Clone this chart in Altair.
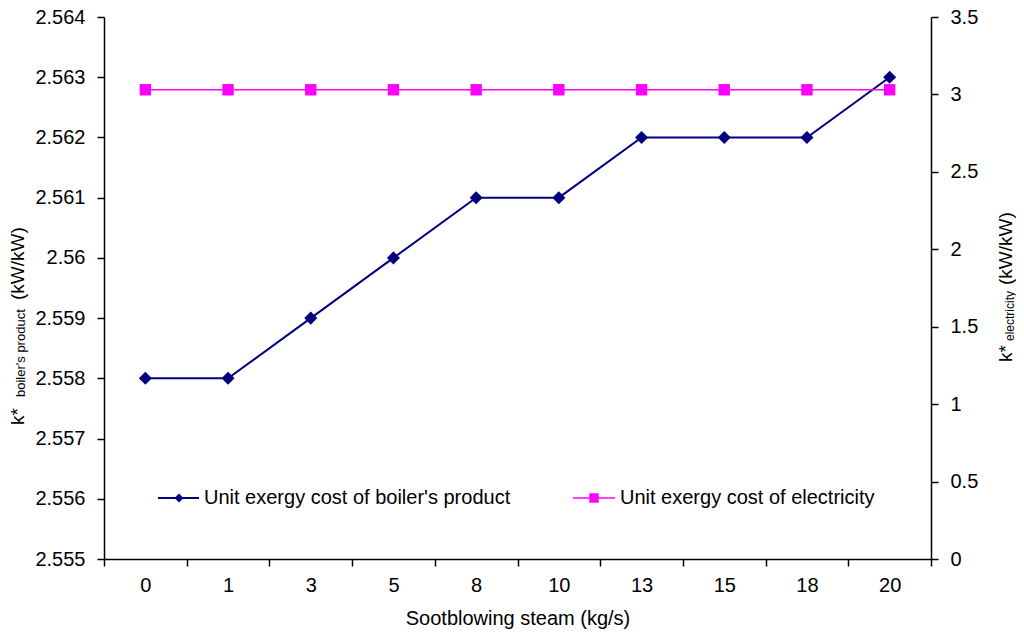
import altair as alt
import pandas as pd

# ---- data ----
steam = [0, 1, 3, 5, 8, 10, 13, 15, 18, 20]
boiler = [2.558, 2.558, 2.559, 2.560, 2.561, 2.561, 2.562, 2.562, 2.562, 2.563]
electricity = [3.03] * 10
left_ticks = [2.555, 2.556, 2.557, 2.558, 2.559, 2.560, 2.561, 2.562, 2.563, 2.564]
right_ticks = [0, 0.5, 1, 1.5, 2, 2.5, 3, 3.5]

series_names = ["Unit exergy cost of boiler's product", "Unit exergy cost of electricity"]

FONT = "Liberation Sans"
NAVY = "#000080"
MAGENTA = "#FF00FF"
TOP = 9
W, H = 827, 551 - TOP - 8 + 8 - 0  # plot bottom kept at y=559 on the page
H = 559 - 8 - TOP
FS = 20

df = pd.DataFrame({"steam": steam, "boiler": boiler, "elec": electricity})

x_enc = alt.X(
    "steam:O",
    sort=steam,
    scale=alt.Scale(type="band", paddingInner=0, paddingOuter=0),
    axis=alt.Axis(
        title="Sootblowing steam (kg/s)",
        labelAngle=0,
        tickBand="extent",
        tickSize=7,
        labelPadding=9,
        titlePadding=13,
        labelFontSize=FS,
        titleFontSize=FS,
        titleFontWeight="normal",
        grid=False,
    ),
)

base = alt.Chart(df)

blue = base.mark_line(
    color=NAVY,
    strokeWidth=2,
    point=alt.OverlayMarkDef(shape="diamond", size=170, filled=True, color=NAVY, opacity=1),
).encode(
    x=x_enc,
    y=alt.Y(
        "boiler:Q",
        scale=alt.Scale(domain=[2.555, 2.564], nice=False, zero=False),
        axis=alt.Axis(
            orient="left",
            title="",
            values=left_ticks,
            format=".4~r",
            tickSize=7,
            labelPadding=12,
            labelFontSize=FS,
            grid=False,
        ),
    ),
)

pink = base.mark_line(
    color=MAGENTA,
    strokeWidth=1.6,
    point=alt.OverlayMarkDef(shape="square", size=130, filled=True, color=MAGENTA, opacity=1),
).encode(
    x=x_enc,
    y=alt.Y(
        "elec:Q",
        scale=alt.Scale(domain=[0, 3.5], nice=False, zero=True),
        axis=alt.Axis(
            orient="right",
            title="",
            values=right_ticks,
            format="~g",
            tickSize=7,
            labelPadding=12,
            labelFontSize=FS,
            grid=False,
        ),
    ),
)

one = pd.DataFrame({"a": [0]})


def txt(text, x, y, size, angle=0, align="left", baseline="alphabetic"):
    return alt.Chart(one).mark_text(
        text=text, font=FONT, fontSize=size, color="black",
        angle=angle, align=align, baseline=baseline,
    ).encode(x=alt.value(x), y=alt.value(y))


off = 8 + TOP

# legend (inside plot area)
leg_y = 498 - off
leg1_line = alt.Chart(one).mark_rule(color=NAVY, strokeWidth=2).encode(
    x=alt.value(54), x2=alt.value(95), y=alt.value(leg_y))
leg1_pt = alt.Chart(one).mark_point(shape="diamond", size=80, filled=True, color=NAVY, opacity=1).encode(
    x=alt.value(75), y=alt.value(leg_y))
leg1_txt = txt(series_names[0], 100, leg_y, FS, baseline="middle")
leg2_line = alt.Chart(one).mark_rule(color=MAGENTA, strokeWidth=1.6).encode(
    x=alt.value(469), x2=alt.value(511), y=alt.value(leg_y))
leg2_pt = alt.Chart(one).mark_point(shape="square", size=90, filled=True, color=MAGENTA, opacity=1).encode(
    x=alt.value(490), y=alt.value(leg_y))
leg2_txt = txt(series_names[1], 516, leg_y, FS, baseline="middle")

# axis titles with subscripts
lt1 = txt("k*", -80, 425 - off, 19, angle=270)
lt2 = txt("boiler's product", -79, 397 - off, 13, angle=270)
lt3 = txt("(kW/kW)", -80, 300 - off, 19, angle=270)
rt1 = txt("k*", 908, 362 - off, 19, angle=270)
rt2 = txt("electricity", 910, 341 - off, 12, angle=270)
rt3 = txt("(kW/kW)", 908, 285 - off, 19, angle=270)

chart = alt.layer(
    blue, pink,
    leg1_line, leg1_pt, leg1_txt, leg2_line, leg2_pt, leg2_txt,
    lt1, lt2, lt3, rt1, rt2, rt3,
).resolve_scale(y="independent").properties(
    width=W,
    height=H,
    autosize=alt.AutoSizeParams(type="none"),
    padding={"left": 96, "top": TOP, "right": 85, "bottom": 70},
    background="white",
).configure_view(
    strokeWidth=0
).configure_axis(
    domainColor="black",
    tickColor="black",
    labelColor="black",
    titleColor="black",
    labelFont=FONT,
    titleFont=FONT,
    domainWidth=1.5,
    tickWidth=1.5,
)

chart.save("out.html", embed_options={"renderer": "svg", "actions": False})
